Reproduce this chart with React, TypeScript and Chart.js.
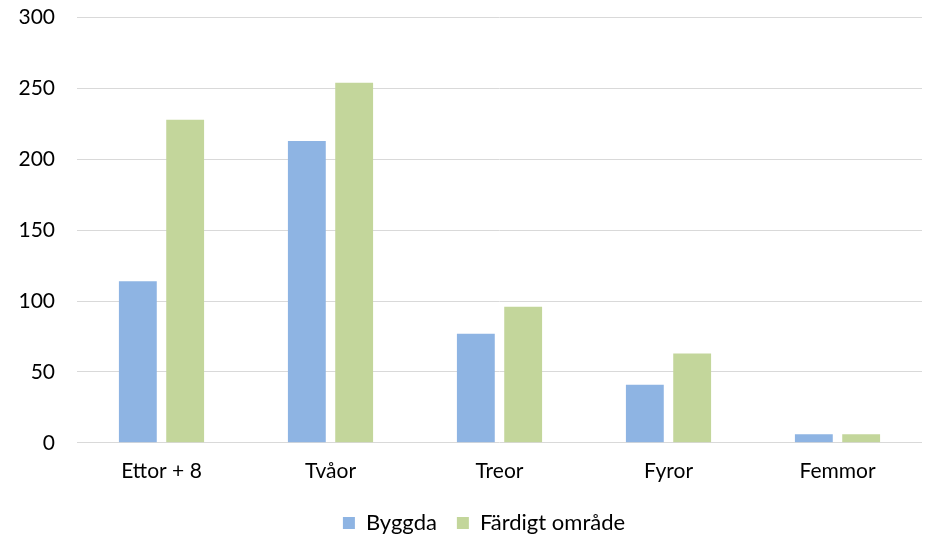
import { useEffect, useRef } from "react";
import { Chart, registerables } from "chart.js";

Chart.register(...registerables);

const categories = ["Ettor + 8", "Tvåor", "Treor", "Fyror", "Femmor"];
const byggda = [114, 213, 77, 41, 6];
const fardigt = [228, 254, 96, 63, 6];
const seriesNames = ["Byggda", "Färdigt område"];
const yTicks = { min: 0, max: 300, step: 50 };

export default function App() {
  const ref = useRef<HTMLCanvasElement>(null);
  useEffect(() => {
    document.body.style.margin = "0";
    const font = { family: "Lato, 'Noto Sans', sans-serif", size: 21 };
    const shiftLegend = {
      id: "shiftLegend",
      afterLayout(chart: any) {
        if (chart.legend) {
          chart.legend.left += 18;
          chart.legend.right += 18;
        }
      },
    };
    const chart = new Chart(ref.current!, {
      type: "bar",
      data: {
        labels: categories,
        datasets: [
          { label: seriesNames[0], data: byggda, backgroundColor: "#8EB4E3" },
          { label: seriesNames[1], data: fardigt, backgroundColor: "#C3D69B" },
        ],
      },
      plugins: [shiftLegend],
      options: {
        animation: false,
        responsive: false,
        layout: { padding: { top: 0, right: 3, left: 10, bottom: 0 } },
        datasets: { bar: { categoryPercentage: 0.56, barPercentage: 0.8 } },
        plugins: {
          tooltip: { enabled: false },
          legend: {
            position: "bottom",
            labels: {
              font: { ...font, size: 22 },
              color: "#000",
              boxWidth: 12,
              boxHeight: 12,
              padding: 20,
            },
          },
        },
        scales: {
          x: {
            grid: { display: false },
            border: { display: false },
            ticks: { font, color: "#000", padding: 8 },
          },
          y: {
            min: yTicks.min,
            max: yTicks.max,
            afterFit: (s: any) => { s.width = 67; },
            grid: { color: "#d9d9d9", lineWidth: 1, drawTicks: false },
            border: { display: false },
            ticks: { stepSize: yTicks.step, font, color: "#000", padding: 22 },
          },
        },
      },
    });
    return () => chart.destroy();
  }, []);
  return (
    <div style={{ width: 925, height: 538, overflow: "hidden" }}>
      <canvas ref={ref} width={925} height={561} style={{ display: "block", marginTop: -17 }} />
    </div>
  );
}
